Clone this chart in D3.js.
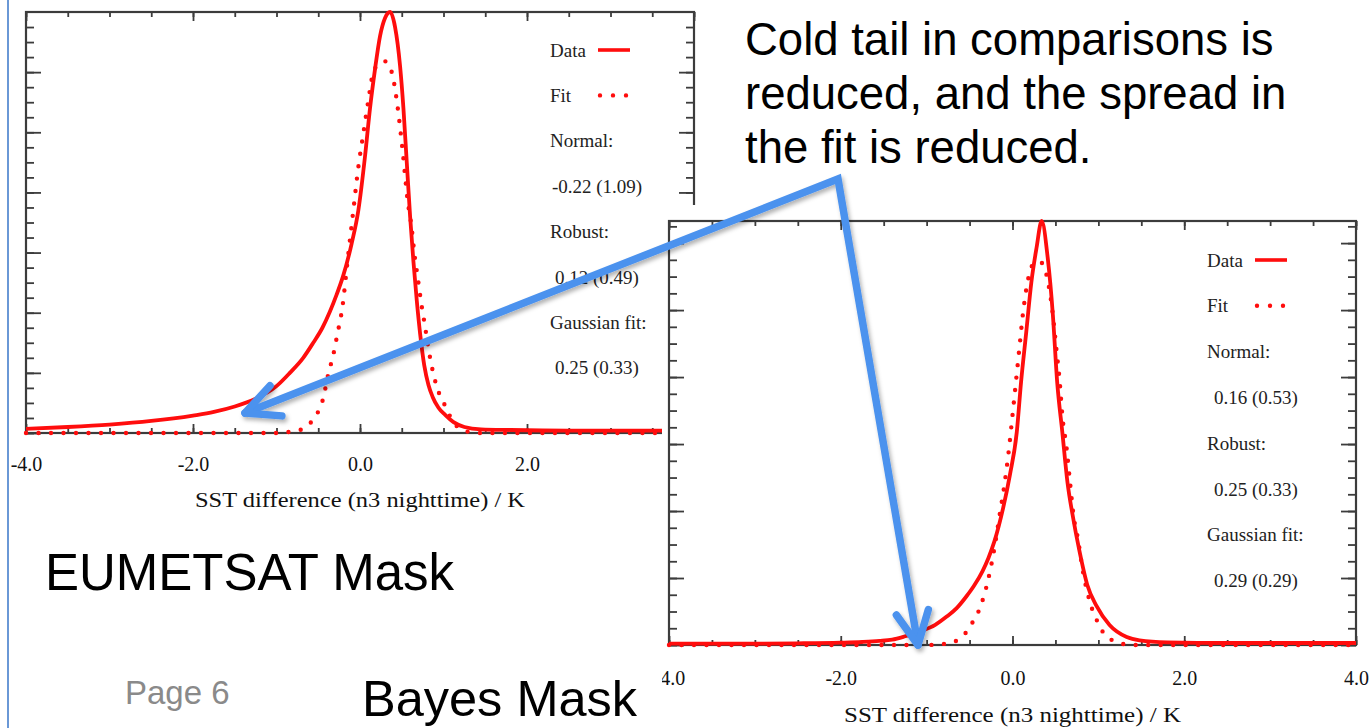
<!DOCTYPE html>
<html>
<head>
<meta charset="utf-8">
<script src="https://cdn.jsdelivr.net/npm/d3@7"></script>
<style>
  body { margin: 0; background: #fff; }
  svg { display: block; }
</style>
</head>
<body>
<svg id="chart" width="1372" height="728"></svg>
<script>
////////////////////////////////////////////
// data
////////////////////////////////////////////

// EUMETSAT mask (left panel)
var eumDataX = [-4, -3.5, -3, -2.5, -2, -1.75, -1.5, -1.25, -1.0, -0.84, -0.68, -0.56, -0.45, -0.36, -0.28, -0.2, -0.1, -0.02,
                0.06, 0.12, 0.18, 0.24, 0.3, 0.36, 0.42, 0.48, 0.52, 0.56, 0.6, 0.64, 0.68, 0.72, 0.77, 0.82, 0.87, 0.94,
                1.02, 1.12, 1.25, 1.45, 1.8, 2.5, 3.2, 4.0];
var eumDataY = [0.07, 0.1, 0.14, 0.2, 0.29, 0.35, 0.44, 0.57, 0.78, 1.0, 1.25, 1.5, 1.75, 2.02, 2.3, 2.62, 3.15, 3.7,
                4.6, 5.4, 6.05, 6.6, 6.9, 7.0, 6.75, 6.1, 5.4, 4.5, 3.6, 2.85, 2.2, 1.65, 1.12, 0.8, 0.6, 0.42,
                0.3, 0.18, 0.1, 0.06, 0.05, 0.04, 0.04, 0.04];
var eumFitX = [-4, -1.5, -1.0, -0.84, -0.68, -0.56, -0.44, -0.38, -0.32, -0.27, -0.21, -0.15, -0.08, -0.02, 0.04, 0.1, 0.15,
               0.22, 0.3, 0.38, 0.44, 0.48, 0.51, 0.57, 0.62, 0.65, 0.69, 0.74, 0.77, 0.83, 0.89, 0.95, 1.01, 1.11, 1.27, 1.43, 4];
var eumFitY = [0, 0, 0, 0.02, 0.07, 0.23, 0.58, 0.98, 1.3, 1.65, 2.1, 2.85, 3.7, 4.42, 4.98, 5.53, 5.95,
               6.13, 6.18, 6.0, 5.53, 5.08, 4.7, 3.87, 3.4, 3.0, 2.6, 2.1, 1.85, 1.32, 0.92, 0.65, 0.48, 0.2, 0.03, 0, 0];

// Bayes mask (right panel)
var bayDataX = [-4, -3, -2.5, -2, -1.75, -1.55, -1.4, -1.25, -1.08, -0.9, -0.77, -0.65, -0.54, -0.45, -0.35, -0.28, -0.21,
                -0.11, -0.03, 0.05, 0.1, 0.16, 0.22, 0.28, 0.34, 0.41, 0.47, 0.52, 0.58, 0.64, 0.7, 0.78, 0.87, 0.98,
                1.13, 1.33, 1.48, 1.8, 2.5, 4];
var bayDataY = [0.02, 0.02, 0.025, 0.035, 0.045, 0.06, 0.08, 0.13, 0.2, 0.3, 0.42, 0.55, 0.72, 0.88, 1.1, 1.3, 1.55,
                2.04, 2.54, 3.18, 3.93, 4.67, 5.42, 5.93, 6.33, 5.78, 4.93, 3.93, 3.18, 2.43, 1.94, 1.4, 0.9, 0.58,
                0.3, 0.12, 0.07, 0.04, 0.03, 0.03];
var bayFitX = [-4, -1.0, -0.85, -0.7, -0.54, -0.46, -0.38, -0.29, -0.21, -0.15, -0.09, -0.04, 0.0, 0.04, 0.08, 0.12, 0.18,
               0.25, 0.32, 0.38, 0.43, 0.47, 0.51, 0.55, 0.58, 0.63, 0.67, 0.71, 0.76, 0.82, 0.9, 1.0, 1.05, 1.15, 1.24, 1.4, 4];
var bayFitY = [0, 0, 0.01, 0.04, 0.19, 0.35, 0.55, 0.94, 1.45, 1.94, 2.43, 2.94, 3.43, 3.93, 4.43, 4.93, 5.45,
               5.7, 5.72, 5.6, 5.3, 4.93, 4.43, 3.93, 3.43, 2.94, 2.43, 1.94, 1.6, 1.1, 0.65, 0.32, 0.2, 0.08, 0.03, 0, 0];

// legend statistics
var eumStats = ["Normal:", "-0.22 (1.09)", "Robust:", "0.12 (0.49)", "Gaussian fit:", "0.25 (0.33)"];
var bayStats = ["Normal:", "0.16 (0.53)", "Robust:", "0.25 (0.33)", "Gaussian fit:", "0.29 (0.29)"];

// axis ticks
var xMajor = [-4, -2, 0, 2, 4];
var xMinor = d3.range(-4, 4.001, 0.5);
var xTitle = "SST difference (n3 nighttime) / K";

var noteLines = ["Cold tail in comparisons is", "reduced, and the spread in", "the fit is reduced."];

////////////////////////////////////////////
// svg
////////////////////////////////////////////
var svg = d3.select("svg#chart");
var RED = "#ff0d0d", AXIS = "#3c3c3c", BLUE = "#4b92ee";
var serif = "'Liberation Serif', 'Times New Roman', serif";
var sans = "'Liberation Sans', Arial, sans-serif";

var defs = svg.append("defs");
defs.append("clipPath").attr("id", "clipRight")
  .append("rect").attr("x", 662).attr("y", 205).attr("width", 710).attr("height", 523);
defs.append("filter").attr("id", "shadow")
  .attr("x", "-10%").attr("y", "-10%").attr("width", "130%").attr("height", "130%")
  .append("feDropShadow")
  .attr("dx", 2).attr("dy", 3).attr("stdDeviation", 2)
  .attr("flood-color", "#000").attr("flood-opacity", 0.3);

svg.append("rect").attr("width", 1372).attr("height", 728).attr("fill", "#fff");

// slide border on the left
svg.append("line")
  .attr("x1", 8).attr("x2", 8).attr("y1", 0).attr("y2", 728)
  .attr("stroke", "#6a98d6").attr("stroke-width", 2);

function drawPanel(p){
  var g = svg.append("g").attr("class", "panel");
  if(p.clip) g.attr("clip-path", "url(#" + p.clip + ")");

  var x = d3.scaleLinear().domain([-4, 4]).range([p.left, p.right]);
  var y = d3.scaleLinear().domain([0, p.yMax]).range([p.bottom, p.top]);
  var yMajor = d3.range(0, p.yMax, 1);
  var yMinor = d3.range(0, p.yMax, 0.25);

  g.append("rect")
    .attr("x", p.left).attr("y", p.top)
    .attr("width", p.right - p.left).attr("height", p.bottom - p.top)
    .attr("fill", "#fff");

  // ticks on all four sides, pointing inward
  function ax(axis, tr, vals, size){
    var a = g.append("g").attr("transform", tr)
      .call(axis.tickValues(vals).tickSize(size).tickSizeOuter(0).tickFormat(""));
    a.select(".domain").remove();
    a.selectAll(".tick line").attr("stroke", AXIS).attr("stroke-width", 1.8);
    return a;
  }
  ax(d3.axisBottom(x), `translate(0,${p.bottom})`, xMinor, -5);
  ax(d3.axisBottom(x), `translate(0,${p.bottom})`, xMajor, -9);
  ax(d3.axisTop(x), `translate(0,${p.top})`, xMinor, -5);
  ax(d3.axisTop(x), `translate(0,${p.top})`, xMajor, -9);
  ax(d3.axisLeft(y), `translate(${p.left},0)`, yMinor, -8);
  ax(d3.axisLeft(y), `translate(${p.left},0)`, yMajor, -15);
  ax(d3.axisRight(y), `translate(${p.right},0)`, yMinor, -8);
  ax(d3.axisRight(y), `translate(${p.right},0)`, yMajor, -15);

  g.append("rect")
    .attr("x", p.left).attr("y", p.top)
    .attr("width", p.right - p.left).attr("height", p.bottom - p.top)
    .attr("fill", "none").attr("stroke", AXIS).attr("stroke-width", 2.2);

  // tick labels
  var lab = g.append("g").attr("transform", `translate(0,${p.bottom})`)
    .call(d3.axisBottom(x).tickValues(xMajor).tickSize(0).tickPadding(p.labelPad)
      .tickFormat(d => d.toFixed(1)));
  lab.select(".domain").remove();
  lab.selectAll("text")
    .attr("fill", "#111").attr("font-size", "20px").attr("font-family", serif);

  // axis title
  g.append("text")
    .attr("x", (p.left + p.right) / 2).attr("y", p.titleY)
    .attr("text-anchor", "middle")
    .attr("textLength", p.titleW).attr("lengthAdjust", "spacingAndGlyphs")
    .attr("font-size", "20px").attr("font-family", serif).attr("fill", "#111")
    .text(xTitle);

  // curves
  var line = d3.line().x(d => x(d[0])).y(d => y(d[1])).curve(d3.curveMonotoneX);
  g.append("path")
    .datum(d3.zip(p.fitX, p.fitY))
    .attr("d", line)
    .attr("fill", "none").attr("stroke", RED).attr("stroke-width", 4.4)
    .attr("stroke-linecap", "round").attr("stroke-dasharray", "0,12.5");
  g.append("path")
    .datum(d3.zip(p.dataX, p.dataY))
    .attr("d", line)
    .attr("fill", "none").attr("stroke", RED).attr("stroke-width", 3.8)
    .attr("stroke-linejoin", "round");

  // legend
  var lg = g.append("g").attr("transform", `translate(${p.legX},${p.legY})`)
    .attr("font-family", serif).attr("font-size", "19px").attr("fill", "#222");
  lg.append("text").attr("y", 0).attr("dy", "0.35em").text("Data");
  lg.append("line").attr("x1", 48).attr("x2", 80).attr("y1", 0).attr("y2", 0)
    .attr("stroke", RED).attr("stroke-width", 3.6);
  lg.append("text").attr("y", p.legStep).attr("dy", "0.35em").text("Fit");
  lg.append("line").attr("x1", 50).attr("x2", 77).attr("y1", p.legStep).attr("y2", p.legStep)
    .attr("stroke", RED).attr("stroke-width", 4.4)
    .attr("stroke-linecap", "round").attr("stroke-dasharray", "0,13");
  lg.selectAll("text.stat")
    .data(p.stats)
    .enter().append("text")
    .attr("class", "stat")
    .attr("x", (d, i) => i % 2 ? p.valX : 0)
    .attr("text-anchor", (d, i) => i % 2 ? "middle" : "start")
    .attr("y", (d, i) => (i + 2) * p.legStep)
    .attr("dy", "0.35em")
    .text(d => d);
}

drawPanel({
  left: 26, right: 694, top: 12, bottom: 433, yMax: 7,
  dataX: eumDataX, dataY: eumDataY, fitX: eumFitX, fitY: eumFitY,
  labelPad: 24, titleY: 507, titleW: 330,
  legX: 550, legY: 50, legStep: 45.4, valX: 47, stats: eumStats
});

// the Bayes plot is pasted over the lower right of the first one
svg.append("rect")
  .attr("x", 662).attr("y", 205).attr("width", 710).attr("height", 523)
  .attr("fill", "#fff");

drawPanel({
  left: 669, right: 1356, top: 221, bottom: 645, yMax: 6.33,
  dataX: bayDataX, dataY: bayDataY, fitX: bayFitX, fitY: bayFitY,
  labelPad: 26, titleY: 722, titleW: 337, clip: "clipRight",
  legX: 1207, legY: 260, legStep: 45.8, valX: 49, stats: bayStats
});

////////////////////////////////////////////
// slide text
////////////////////////////////////////////
svg.append("g").selectAll("text")
  .data(noteLines)
  .enter().append("text")
  .attr("x", 745).attr("y", (d, i) => 55 + i * 54)
  .attr("font-family", sans).attr("font-size", "45.5px").attr("fill", "#000")
  .text(d => d);

svg.append("text").attr("x", 45).attr("y", 590)
  .attr("font-family", sans).attr("font-size", "51px").attr("fill", "#000")
  .text("EUMETSAT Mask");
svg.append("text").attr("x", 362).attr("y", 716)
  .attr("font-family", sans).attr("font-size", "50.5px").attr("fill", "#000")
  .text("Bayes Mask");
svg.append("text").attr("x", 125).attr("y", 704)
  .attr("font-family", sans).attr("font-size", "33px").attr("fill", "#8a8a8a")
  .text("Page 6");

////////////////////////////////////////////
// arrows
////////////////////////////////////////////
var joint = [838, 179];
var tips = [[245, 413], [918, 645]];
var arrows = svg.append("g").attr("filter", "url(#shadow)")
  .attr("fill", "none").attr("stroke", BLUE).attr("stroke-width", 7.5)
  .attr("stroke-linecap", "round").attr("stroke-linejoin", "miter");
arrows.append("path")
  .attr("d", d3.line()([tips[0], joint, tips[1]]));
tips.forEach(function(t){
  var a = Math.atan2(joint[1] - t[1], joint[0] - t[0]);
  var L = 37, s = 26 * Math.PI / 180;
  var w1 = [t[0] + L * Math.cos(a - s), t[1] + L * Math.sin(a - s)];
  var w2 = [t[0] + L * Math.cos(a + s), t[1] + L * Math.sin(a + s)];
  arrows.append("path")
    .attr("stroke-linejoin", "round")
    .attr("d", d3.line()([w1, t, w2]));
});
</script>
</body>
</html>
